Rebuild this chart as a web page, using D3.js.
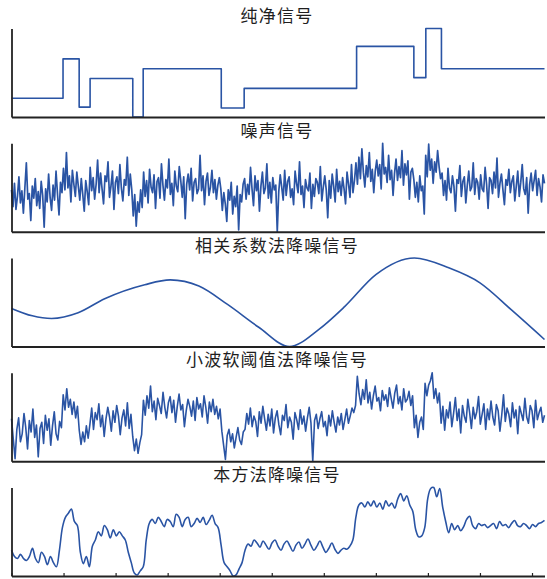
<!DOCTYPE html>
<html><head><meta charset="utf-8">
<script src="https://cdn.jsdelivr.net/npm/d3@7"></script>
<style>body{margin:0;background:#fff}</style>
</head><body>
<svg id="c" width="547" height="579"></svg>
<script>
const titles = ["纯净信号", "噪声信号", "相关系数法降噪信号", "小波软阈值法降噪信号", "本方法降噪信号"];
const xTicks = [0, 100, 200, 300, 400, 500, 600, 700, 800, 900, 1000];
const signalLength = 1024;

const cleanBreaks = [0, 99, 130, 151, 233, 253, 403, 447, 663, 773, 796, 826, 1024];
const cleanLevels = [2.1, 6.5, 1.1, 4.3, 0, 5.4, 1.0, 3.2, 7.9, 4.4, 9.9, 5.4, 5.4];

const noisySignal = [
4.9,3.1,5.6,2.8,4.2,6.3,3.5,4.8,2.4,5.1,
7.8,3.9,4.5,1.6,5.3,4.0,6.1,3.2,4.7,2.9,
5.8,4.3,0.9,5.0,3.6,6.6,4.1,2.7,5.4,3.8,
6.9,4.4,2.2,5.7,4.6,
7.2,4.9,8.9,5.1,6.4,3.6,7.0,5.5,4.2,6.8,5.3,
3.8,6.1,4.4,2.6,5.9,4.7,3.3,
7.3,4.8,6.2,3.9,5.5,8.1,4.6,6.7,5.0,3.4,
6.4,5.8,7.9,4.1,5.3,6.9,2.8,5.7,6.3,4.5,
7.6,5.1,3.7,6.0,5.4,8.4,4.3,6.6,4.9,
2.1,4.4,1.0,3.6,2.5,4.9,3.0,
6.8,4.2,5.9,3.5,7.1,5.2,4.6,6.5,2.9,5.8,
6.2,4.0,7.7,5.4,3.8,6.0,5.1,8.2,4.4,5.6,
3.2,6.9,5.3,4.7,7.4,5.9,4.1,6.3,1.8,5.5,
6.6,4.9,7.2,3.7,5.7,6.1,4.5,5.0,8.6,4.8,
6.4,3.3,5.8,6.7,4.3,5.2,7.0,4.6,6.0,3.9,
5.4,6.2,
5.0,2.7,4.6,3.4,1.5,4.9,3.8,5.7,2.3,4.2,
3.1,5.3,0.6,4.4,3.6,5.5,
6.1,3.9,5.5,4.4,7.3,5.0,3.2,6.4,4.8,5.9,
2.6,5.3,6.8,4.5,5.1,7.7,4.0,5.7,3.5,6.2,
4.9,5.4,0.4,4.7,6.5,5.2,3.8,7.0,4.3,5.8,
6.3,4.1,5.0,3.3,6.9,5.6,4.6,7.9,4.4,5.3,
3.0,6.0,5.1,4.8,6.7,2.9,5.5,4.2,6.1,5.7,
4.5,7.4,3.7,5.2,6.4,4.9,1.9,5.9,4.0,6.6,
5.3,3.6,7.1,4.7,5.8,4.3,6.2,5.0,3.4,6.8,
5.5,4.1,7.6,4.6,5.9,
7.8,5.5,8.4,6.1,9.3,6.8,5.2,7.5,6.3,8.9,
5.8,7.1,4.6,6.9,8.1,6.4,7.6,5.0,9.9,6.6,
7.3,5.7,8.6,6.0,7.0,4.3,6.7,8.2,5.9,7.4,
6.2,9.1,5.4,7.7,6.5,8.0,3.9,6.8,7.2,
6.0,4.1,5.7,3.6,6.4,4.8,5.3,2.3,
8.6,6.3,9.8,7.0,8.2,5.6,7.9,6.8,9.1,7.4,6.1,
6.7,4.3,5.9,3.8,7.2,5.1,4.6,6.4,5.3,2.6,
6.0,5.6,7.5,4.2,5.8,6.3,3.5,5.4,6.9,4.8,
5.2,7.8,4.4,6.1,5.7,3.9,6.5,5.0,4.7,7.3,
5.5,2.9,6.2,5.9,4.5,6.8,5.1,8.3,4.1,5.6,
6.6,4.9,3.3,6.0,5.4,7.1,4.6,5.8,6.4,3.7,
5.3,6.9,4.2,5.7,7.6,5.0,4.4,6.2,2.4,5.5,
6.7,4.8,5.9,7.0,4.3,6.1,5.2,3.6,6.5,5.6
];

const corrSamples = [0, 40, 77, 128, 179, 256, 305, 360, 415, 475, 534, 590, 640, 700, 774, 840, 900, 960, 1024];
const corrValues = [4.35, 3.5, 3.2, 3.85, 5.45, 7.05, 7.6, 6.9, 4.8, 2.2, 0, 1.93, 4.55, 8.2, 10.1, 8.98, 7.27, 4.2, 0.8];

const waveletSignal = [
4.8,2.5,0.3,3.6,4.9,2.2,3.1,5.4,3.8,1.4,
4.6,3.3,5.9,2.7,4.1,0.5,3.7,4.4,2.0,5.2,
3.5,4.8,1.8,4.0,5.6,3.1,2.4,4.5,3.8,
7.5,5.8,8.2,6.1,7.0,5.3,6.7,4.9,6.2,
3.5,1.9,3.3,2.2,4.0,2.6,
4.2,6.0,3.6,5.5,4.7,6.5,3.9,5.2,2.8,4.8,
6.1,5.0,3.4,5.7,4.4,6.3,5.1,3.0,4.9,5.8,
4.0,6.6,3.7,5.3,
2.8,1.2,2.5,0.9,2.1,3.0,
6.9,5.2,7.4,6.0,8.5,5.6,6.8,4.7,7.1,6.3,
5.4,7.8,6.1,4.9,6.6,7.3,5.5,6.9,4.4,6.2,
7.6,5.8,6.4,3.9,5.7,7.0,6.2,5.1,6.8,4.6,
7.2,5.9,6.5,5.0,7.4,6.1,4.3,6.7,5.6,7.0,
5.3,6.2,4.8,5.9,
3.4,1.8,0.2,2.9,3.6,2.2,3.1,1.5,2.7,3.8,2.4,1.9,3.3,
3.6,5.4,4.2,6.0,3.9,5.1,4.5,2.8,5.6,4.3,
6.2,4.8,3.5,5.3,4.0,5.9,3.2,4.9,5.7,4.1,
3.0,5.2,4.6,6.4,3.8,5.0,4.4,2.5,5.5,4.7,
3.6,5.8,4.2,5.1,3.4,4.9,6.1,4.3,0.0,4.6,
5.3,3.7,4.8,5.6,3.9,4.5,2.9,5.2,4.0,5.7,
4.4,3.3,5.0,4.1,5.4,3.6,4.7,5.9,4.3,5.1,
6.0,5.5,6.3,
9.6,7.6,6.4,8.1,7.0,9.2,6.6,7.8,5.9,7.4,
8.5,6.8,7.2,5.7,8.0,6.9,7.5,6.2,8.3,7.1,
6.0,7.7,8.6,6.5,7.3,5.8,8.2,6.7,7.0,7.9,
6.3,7.4,
3.8,5.2,2.7,4.4,5.0,3.6,
8.8,7.4,8.6,9.1,10.0,7.1,8.2,6.6,7.7,
4.3,6.2,3.5,5.8,4.9,6.7,3.9,5.4,7.2,4.6,
5.9,3.2,6.3,5.1,4.4,7.0,5.5,3.7,6.1,4.8,
5.6,7.3,4.2,5.3,6.5,3.6,5.9,4.7,6.8,5.0,
4.1,6.4,5.7,3.4,5.2,7.5,4.5,6.0,5.3,3.9,
6.6,4.9,5.8,3.1,6.2,5.4,4.6,7.1,5.0,4.3,
6.3,5.7,3.8,6.9,4.7,5.5,6.1,4.4,5.2
];

const proposedSignal = [
2.6,2.0,1.8,2.2,1.8,1.6,2.0,2.8,1.8,1.4,
2.4,2.0,1.2,2.0,1.4,1.0,2.6,4.8,5.8,6.2,
6.6,5.4,5.0,2.4,1.3,2.0,1.0,3.0,3.6,4.4,
4.0,5.0,4.6,3.8,4.6,4.0,4.4,4.0,3.6,2.4,
1.4,0.4,0.2,0.6,1.0,3.6,5.2,5.6,5.2,5.8,
5.4,4.9,5.6,5.4,4.9,6.1,5.8,4.9,5.6,5.8,
4.9,5.2,5.7,5.3,5.8,5.1,5.5,6.0,5.2,4.8,
3.1,1.4,1.0,0.6,0.1,0.2,0.8,1.4,2.6,3.2,
3.0,3.6,3.3,2.9,3.5,3.1,2.7,3.3,3.6,3.0,
2.6,3.2,3.5,3.0,2.5,3.1,3.4,2.8,3.2,3.7,
3.1,2.6,3.0,3.5,2.9,2.4,2.8,3.3,2.7,2.3,
2.6,2.8,2.7,3.0,3.6,5.8,7.0,7.2,6.8,7.3,
6.9,7.4,6.8,7.2,6.6,7.4,6.9,7.2,6.7,7.6,
8.1,7.4,7.9,7.0,6.4,4.6,3.9,4.0,4.8,7.6,
8.6,8.7,7.8,8.6,6.8,5.4,4.3,5.2,4.6,5.0,
4.5,4.9,5.6,5.9,5.0,4.7,5.2,5.0,5.1,4.8,
5.0,5.2,4.7,5.4,5.0,5.1,4.8,5.2,5.5,5.0,
4.9,5.2,5.0,4.7,5.1,4.9,5.2,5.3,5.5
];

const svg = d3.select("#c");
const left = 11.5, right = 544.5;
const panelTop0 = 28, panelStep = 114.75, panelH = 89;
const blue = "#2a54a4";

function panel(i) {
  const top = panelTop0 + i * panelStep, bottom = top + panelH;
  const g = svg.append("g");
  g.append("text").attr("x", 277).attr("y", top - 6)
    .attr("text-anchor", "middle").attr("font-family", "'Noto Sans CJK SC', sans-serif")
    .attr("font-size", 17).attr("letter-spacing", 1.2).attr("fill", "#1e1e1e").text(titles[i]);
  return {g, top, bottom};
}

function drawAxes(p, x, y, withTicks) {
  const xa = d3.axisBottom(x).tickSizeOuter(0).tickFormat("");
  if (withTicks) xa.tickValues(xTicks).tickSizeInner(-3); else xa.tickValues([]);
  const gx = p.g.append("g").attr("transform", `translate(0,${p.bottom})`).call(xa);
  gx.select(".domain").attr("stroke", "#222").attr("stroke-width", 1.8);
  gx.selectAll(".tick line").attr("stroke", "#222").attr("stroke-width", 1.2);
  const ya = d3.axisLeft(y).tickValues([]).tickSizeOuter(0);
  const gy = p.g.append("g").attr("transform", `translate(${left},0)`).call(ya);
  gy.select(".domain").attr("stroke", "#222").attr("stroke-width", 1.8);
}

function drawSeries(i, xs, ys, curve, width, withTicks) {
  const p = panel(i);
  const x = d3.scaleLinear().domain([0, signalLength]).range([left, right]);
  const y = d3.scaleLinear().domain(d3.extent(ys)).range([p.bottom, p.top + 0.5]);
  const line = d3.line().x((d, k) => x(xs[k])).y(d => y(d)).curve(curve);
  p.g.append("path").attr("d", line(ys)).attr("fill", "none")
    .attr("stroke", blue).attr("stroke-width", width).attr("stroke-linejoin", "round");
  drawAxes(p, x, y, withTicks);
}

function idx(arr) { return arr.map((_, k) => k * signalLength / (arr.length - 1)); }

drawSeries(0, cleanBreaks, cleanLevels, d3.curveStepAfter, 1.6, false);
drawSeries(1, idx(noisySignal), noisySignal, d3.curveLinear, 1.7, false);
drawSeries(2, corrSamples, corrValues, d3.curveMonotoneX, 1.6, false);
drawSeries(3, idx(waveletSignal), waveletSignal, d3.curveLinear, 1.6, false);
drawSeries(4, idx(proposedSignal), proposedSignal, d3.curveCatmullRom, 1.6, true);
</script>
</body></html>
